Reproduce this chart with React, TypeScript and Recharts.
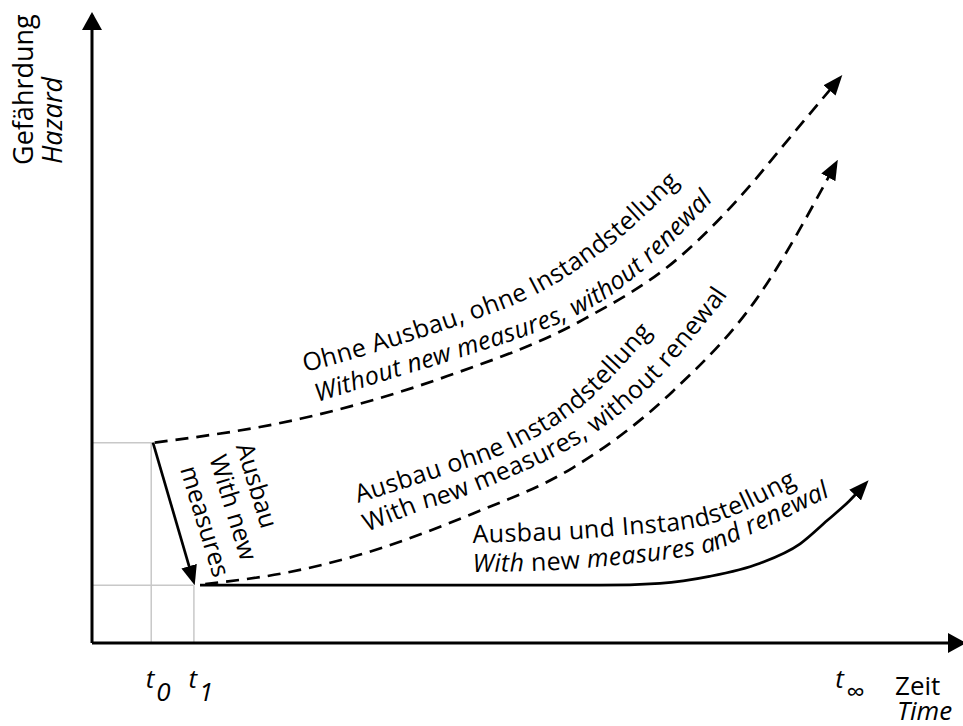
import React from 'react';
import { LineChart, Line, XAxis, YAxis, ReferenceLine } from 'recharts';

// time axis 0..100, hazard axis 0..100 (conceptual units)
const tickValues = [6.8, 11.7, 86.2];
const tickSubs = ['0', '1', '∞'];

const withoutMeasures = [
  { x: 7.2, y: 31.9 }, { x: 23.9, y: 35.7 }, { x: 40.8, y: 42.5 }, { x: 56.0, y: 51.2 },
  { x: 67.5, y: 61.5 }, { x: 75.9, y: 73.4 }, { x: 79.0, y: 78.6 }, { x: 85.7, y: 89.7 },
];
const newMeasuresNoRenewal = [
  { x: 13.0, y: 9.4 }, { x: 22.7, y: 11.3 }, { x: 29.6, y: 13.6 }, { x: 43.7, y: 20.6 },
  { x: 55.2, y: 27.9 }, { x: 66.7, y: 40.1 }, { x: 76.3, y: 54.8 }, { x: 85.3, y: 76.1 },
];
const newMeasuresRenewal = [
  { x: 12.4, y: 9.2 }, { x: 35.4, y: 9.2 }, { x: 58.3, y: 9.2 }, { x: 65.2, y: 9.5 },
  { x: 70.9, y: 10.6 }, { x: 76.7, y: 12.7 }, { x: 81.3, y: 15.8 }, { x: 84.4, y: 19.5 },
  { x: 87.0, y: 22.7 }, { x: 88.7, y: 25.2 },
];
const expansionStep = [{ x: 7.0, y: 31.9 }, { x: 11.6, y: 10.1 }];

const font = "'Open Sans', sans-serif";

// baseline guides for the curved labels (pixels)
type P = [number, number];
const guides: Record<string, P[]> = {
  g1: [[305, 372], [360, 357], [453, 327], [533, 296], [605, 250], [672, 190], [700, 160]],
  g2: [[318, 402], [403, 375], [453, 360], [567, 320], [640, 273], [716, 197], [735, 172]],
  g3: [[358, 503], [442, 476], [505, 453], [580, 408], [650, 335], [670, 310]],
  g4: [[367, 532], [422, 510], [463, 497], [573, 447], [650, 387], [716, 310], [730, 290]],
  g5: [[473, 543], [557, 540], [613, 536], [707, 525], [787, 490], [810, 476]],
  g6: [[473, 572], [573, 569], [695, 555], [743, 538], [832, 495], [850, 483]],
};

function smooth(pts: P[]) {
  let d = `M${pts[0][0]},${pts[0][1]}`;
  for (let i = 0; i < pts.length - 1; i++) {
    const p0 = pts[i - 1] || pts[i];
    const p1 = pts[i];
    const p2 = pts[i + 1];
    const p3 = pts[i + 2] || p2;
    const c1 = [p1[0] + (p2[0] - p0[0]) / 6, p1[1] + (p2[1] - p0[1]) / 6];
    const c2 = [p2[0] - (p3[0] - p1[0]) / 6, p2[1] - (p3[1] - p1[1]) / 6];
    d += ` C${c1[0]},${c1[1]} ${c2[0]},${c2[1]} ${p2[0]},${p2[1]}`;
  }
  return d;
}

const TimeTick = (props: any) => {
  const { x, y, payload } = props;
  const i = tickValues.indexOf(payload.value);
  return (
    <text x={x + 7} y={y + 37} textAnchor="middle" fontFamily={font} fontSize={26} fontStyle="italic" fill="#000">
      <tspan>t</tspan>
      <tspan dx={2} dy={13}>{tickSubs[i]}</tspan>
    </text>
  );
};

const Labels = () => (
  <g fontFamily={font} fill="#000">
    {Object.keys(guides).map((k) => (
      <path key={k} id={k} d={smooth(guides[k])} fill="none" stroke="none" />
    ))}
    <g fontSize={25} letterSpacing={0.3}>
      <text><textPath href="#g1">Ohne Ausbau, ohne Instandstellung</textPath></text>
      <text fontStyle="italic"><textPath href="#g2">Without new measures, without renewal</textPath></text>
      <text><textPath href="#g3">Ausbau ohne Instandstellung</textPath></text>
      <text><textPath href="#g4">With new measures, without renewal</textPath></text>
      <text><textPath href="#g5">Ausbau und Instandstellung</textPath></text>
      <text fontStyle="italic">
        <textPath href="#g6">With <tspan fontStyle="normal">new</tspan> measures and renewal</textPath>
      </text>
    </g>

    <g transform="translate(225,510) rotate(73)" fontSize={25}>
      <text x={-14} y={-29} textAnchor="middle">Ausbau</text>
      <text x={0} y={0} textAnchor="middle">With new</text>
      <text x={5} y={31} textAnchor="middle">measures</text>
    </g>

    <text transform="translate(33,165) rotate(-90)" fontSize={27}>Gefährdung</text>
    <text transform="translate(62,164) rotate(-90)" fontSize={27} fontStyle="italic">Hazard</text>

    <text x={895} y={695} fontSize={26}>Zeit</text>
    <text x={897} y={720} fontSize={26} fontStyle="italic">Time</text>
  </g>
);

export default function App() {
  return (
    <div style={{ position: 'absolute', left: 0, top: 0, width: 963, height: 726, background: '#fff' }}>
      <LineChart width={963} height={726} margin={{ top: 15, right: 0, bottom: 23, left: 91 }}>
        <defs>
          <marker id="head" viewBox="0 0 20 16" refX={14} refY={8} markerWidth={20} markerHeight={16}
            markerUnits="userSpaceOnUse" orient="auto">
            <path d="M0,0 L20,8 L0,16 z" fill="#000" />
          </marker>
          <marker id="axisHead" viewBox="0 0 18 20" refX={15} refY={10} markerWidth={18} markerHeight={20}
            markerUnits="userSpaceOnUse" orient="auto-start-reverse">
            <path d="M0,0 L18,10 L0,20 z" fill="#000" />
          </marker>
        </defs>
        <XAxis
          type="number"
          dataKey="x"
          domain={[0, 100]}
          allowDataOverflow
          ticks={tickValues}
          tick={<TimeTick />}
          tickLine={false}
          height={60}
          axisLine={{ stroke: '#000', strokeWidth: 3, markerEnd: 'url(#axisHead)' }}
        />
        <YAxis
          type="number"
          domain={[0, 100]}
          allowDataOverflow
          width={1}
          ticks={[]}
          tick={false}
          tickLine={false}
          axisLine={{ stroke: '#000', strokeWidth: 3, markerStart: 'url(#axisHead)' }}
        />
        <ReferenceLine segment={[{ x: 0, y: 31.9 }, { x: 7.0, y: 31.9 }]} stroke="#c8c8c8" strokeWidth={1.5} />
        <ReferenceLine segment={[{ x: 6.8, y: 0 }, { x: 6.8, y: 31.9 }]} stroke="#c8c8c8" strokeWidth={1.5} />
        <ReferenceLine segment={[{ x: 0, y: 9.2 }, { x: 11.7, y: 9.2 }]} stroke="#c8c8c8" strokeWidth={1.5} />
        <ReferenceLine segment={[{ x: 11.7, y: 0 }, { x: 11.7, y: 9.2 }]} stroke="#c8c8c8" strokeWidth={1.5} />

        <Line data={withoutMeasures} dataKey="y" type="monotone" stroke="#000" strokeWidth={2.7}
          strokeDasharray="13 8" dot={false} activeDot={false} isAnimationActive={false} markerEnd="url(#head)" />
        <Line data={newMeasuresNoRenewal} dataKey="y" type="monotone" stroke="#000" strokeWidth={2.7}
          strokeDasharray="13 8" dot={false} activeDot={false} isAnimationActive={false} markerEnd="url(#head)" />
        <Line data={newMeasuresRenewal} dataKey="y" type="monotone" stroke="#000" strokeWidth={2.7}
          dot={false} activeDot={false} isAnimationActive={false} markerEnd="url(#head)" />
        <Line data={expansionStep} dataKey="y" type="linear" stroke="#000" strokeWidth={2.7}
          dot={false} activeDot={false} isAnimationActive={false} markerEnd="url(#head)" />
        <Labels />
      </LineChart>
    </div>
  );
}
